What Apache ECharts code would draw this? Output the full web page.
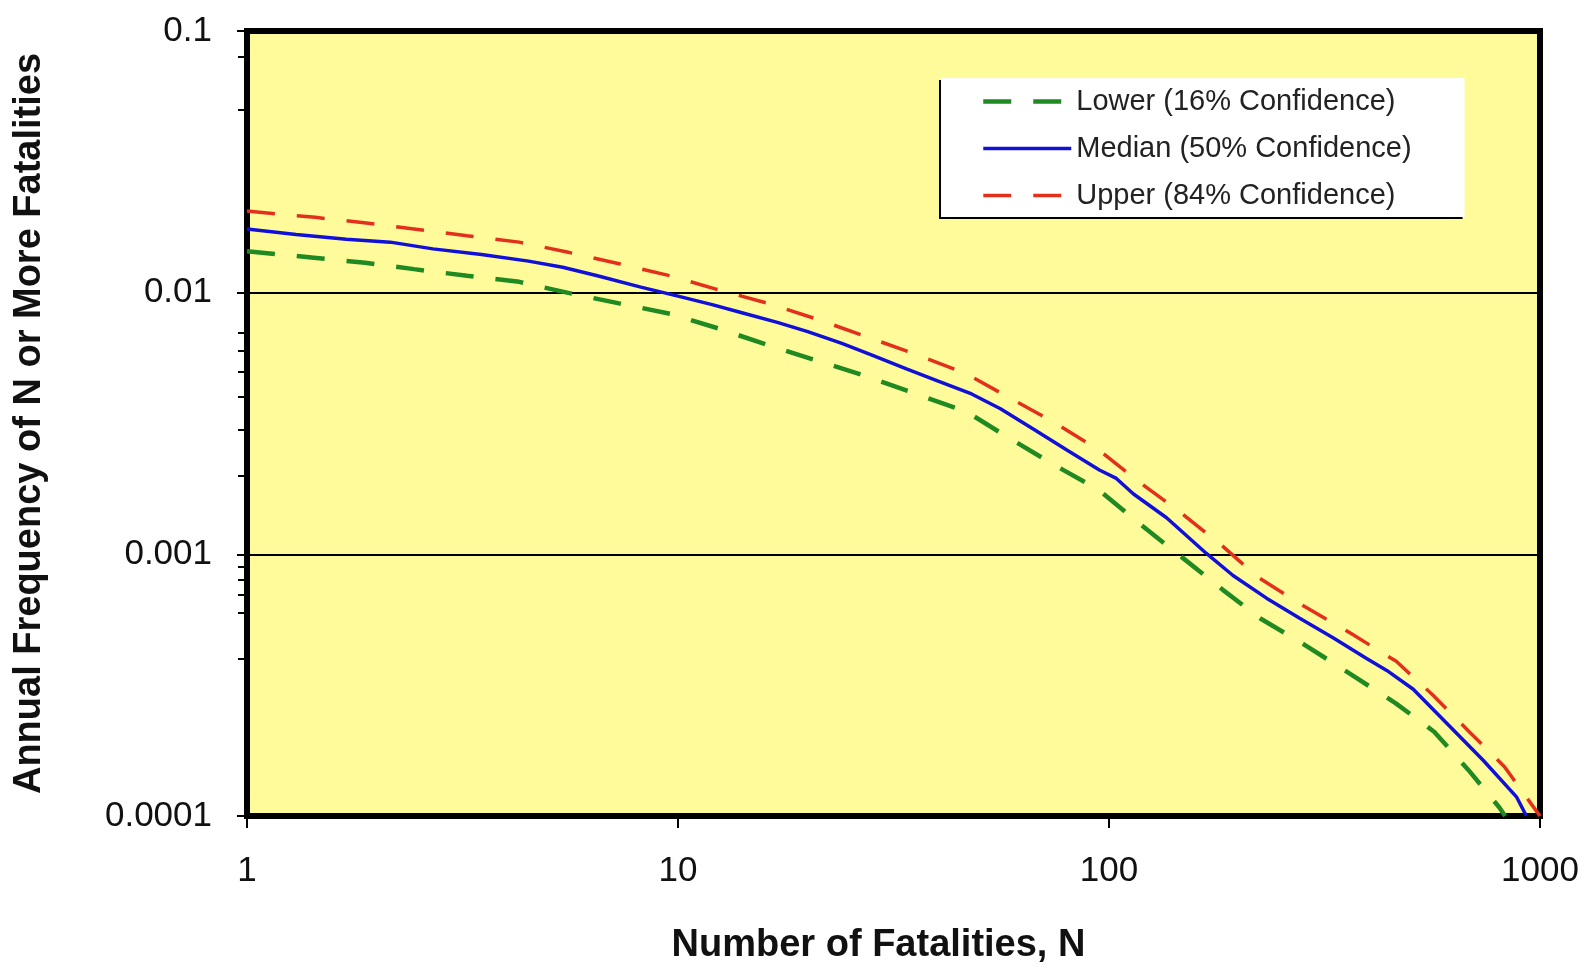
<!DOCTYPE html>
<html>
<head>
<meta charset="utf-8">
<script src="https://cdn.jsdelivr.net/npm/echarts@6/dist/echarts.min.js"></script>
<style>
  html, body { margin: 0; padding: 0; background: #fff; }
  #chart { width: 1586px; height: 970px; }
</style>
</head>
<body>
<div id="chart"></div>
<script>
// F-N curve: annual frequency of N or more fatalities

const xTicks = [1, 10, 100, 1000];
const yTicks = [0.0001, 0.001, 0.01, 0.1];
const yMinorTicks = [0.08, 0.05, 0.007, 0.006, 0.005, 0.004, 0.003, 0.002, 0.0009, 0.0008, 0.0007, 0.0006, 0.0004];

const nLower = [1, 1.43, 1.88, 2.44, 3.24, 4.28, 5.53, 7.3, 9.6, 12.4, 16.2, 21, 27.3, 35.7, 46.8, 58.3, 74.5, 94.8, 117, 147, 184, 224, 285, 362, 462, 568, 682, 804, 830];
const fLower = [0.0144, 0.0136, 0.0130, 0.0123, 0.0116, 0.0110, 0.0100, 0.0091, 0.0083, 0.0073, 0.0063, 0.0055, 0.0048, 0.0041, 0.0035, 0.0028, 0.0022, 0.00176, 0.00132, 0.00098, 0.00073, 0.00057, 0.00045, 0.00035, 0.00027, 0.00021, 0.00015, 0.000108, 0.0001];

const nMedian = [1, 1.3, 1.7, 2.15, 2.7, 3.5, 4.5, 5.4, 6.5, 8.2, 10, 12, 14, 17, 20, 24, 28, 34, 40, 48, 56, 67, 80, 95, 104, 114, 136, 168, 194, 232, 277, 331, 396, 441, 508, 618, 739, 883, 930];
const fMedian = [0.0175, 0.0167, 0.0160, 0.0156, 0.0147, 0.0140, 0.0132, 0.0125, 0.0116, 0.0105, 0.0097, 0.0090, 0.0084, 0.0077, 0.0071, 0.0064, 0.0058, 0.0051, 0.0046, 0.0041, 0.0036, 0.0030, 0.0025, 0.0021, 0.00195, 0.0017, 0.00138, 0.00101, 0.00083, 0.00068, 0.00057, 0.00048, 0.00040, 0.00036, 0.000305, 0.00022, 0.000163, 0.000118, 0.0001];

const nUpper = [1, 1.44, 1.87, 2.44, 3.24, 4.28, 5.53, 7.3, 9.6, 12.3, 16.2, 21.1, 27.3, 35.7, 46.6, 58.2, 74.4, 94.8, 117, 147, 184, 221, 285, 363, 464, 564, 685, 828, 955, 1000];
const fUpper = [0.0205, 0.0194, 0.0185, 0.0175, 0.0165, 0.0156, 0.0143, 0.0129, 0.0116, 0.0103, 0.0091, 0.0079, 0.0068, 0.0058, 0.0049, 0.0040, 0.0032, 0.0025, 0.0019, 0.00144, 0.00107, 0.00082, 0.00063, 0.00050, 0.00039, 0.00029, 0.00021, 0.000154, 0.000111, 0.0001];

const pairs = (xs, ys) => xs.map((x, i) => [x, ys[i]]);

const FONT = '"Liberation Sans", Arial, sans-serif';

const chart = echarts.init(document.getElementById('chart'));

chart.setOption({
  backgroundColor: '#ffffff',
  animation: false,
  grid: {
    left: 247, right: 46, top: 31, bottom: 151,
    show: true,
    backgroundColor: '#FFFB9A',
    borderColor: '#000',
    borderWidth: 6
  },
  legend: {
    orient: 'vertical',
    left: 941,
    top: 78,
    padding: [9, 53, 7, 40],
    itemGap: 18,
    itemWidth: 88,
    itemHeight: 14,
    backgroundColor: '#ffffff',
    borderWidth: 0,
    shadowColor: '#000',
    shadowBlur: 0,
    shadowOffsetX: -2,
    shadowOffsetY: 2,
    itemStyle: { color: 'rgba(0,0,0,0)', borderWidth: 0 },
    lineStyle: { width: 'inherit', type: 'inherit' },
    textStyle: { fontFamily: FONT, fontSize: 29, color: '#222' },
    data: ['Lower (16% Confidence)', 'Median (50% Confidence)', 'Upper (84% Confidence)']
  },
  xAxis: {
    type: 'log',
    logBase: 10,
    min: xTicks[0],
    max: xTicks[xTicks.length - 1],
    name: 'Number of Fatalities, N',
    nameLocation: 'middle',
    nameGap: 111,
    nameTextStyle: { fontFamily: FONT, fontSize: 38, fontWeight: 'bold', color: '#111', padding: [0, 30, 0, 0] },
    axisLine: { show: false },
    axisTick: { show: true, length: 12, lineStyle: { color: '#000', width: 2 } },
    axisLabel: { margin: 38, fontFamily: FONT, fontSize: 35, color: '#111', formatter: v => String(v) },
    splitLine: { show: false }
  },
  yAxis: [{
    type: 'log',
    logBase: 10,
    min: yTicks[0],
    max: yTicks[yTicks.length - 1],
    name: 'Annual Frequency of N or More Fatalities',
    nameLocation: 'middle',
    nameGap: 198,
    nameTextStyle: { fontFamily: FONT, fontSize: 38, fontWeight: 'bold', color: '#111' },
    axisLine: { show: false },
    axisTick: { show: true, length: 10, lineStyle: { color: '#000', width: 2 } },
    axisLabel: { margin: 35, fontFamily: FONT, fontSize: 35, color: '#111', formatter: v => String(v) },
    splitLine: { show: true, lineStyle: { color: '#000', width: 2 } }
  }, {
    // minor ticks, placed on a log10 value axis over the same grid
    type: 'value',
    min: Math.log10(yTicks[0]),
    max: Math.log10(yTicks[yTicks.length - 1]),
    position: 'left',
    axisLine: { show: false },
    axisLabel: { show: false },
    splitLine: { show: false },
    axisTick: {
      show: true, length: 9,
      lineStyle: { color: '#000', width: 2 },
      customValues: yMinorTicks.map(v => Math.log10(v))
    }
  }],
  series: [
    {
      name: 'Lower (16% Confidence)', type: 'line', symbol: 'none',
      data: pairs(nLower, fLower),
      itemStyle: { color: '#1F8A22' },
      lineStyle: { color: '#1F8A22', width: 4.5, type: [28, 22] }
    },
    {
      name: 'Median (50% Confidence)', type: 'line', symbol: 'none',
      data: pairs(nMedian, fMedian),
      itemStyle: { color: '#1010D8' },
      lineStyle: { color: '#1010D8', width: 3.5 }
    },
    {
      name: 'Upper (84% Confidence)', type: 'line', symbol: 'none',
      data: pairs(nUpper, fUpper),
      itemStyle: { color: '#E2301C' },
      lineStyle: { color: '#E2301C', width: 3.5, type: [28, 22] }
    }
  ]
});
</script>
</body>
</html>
